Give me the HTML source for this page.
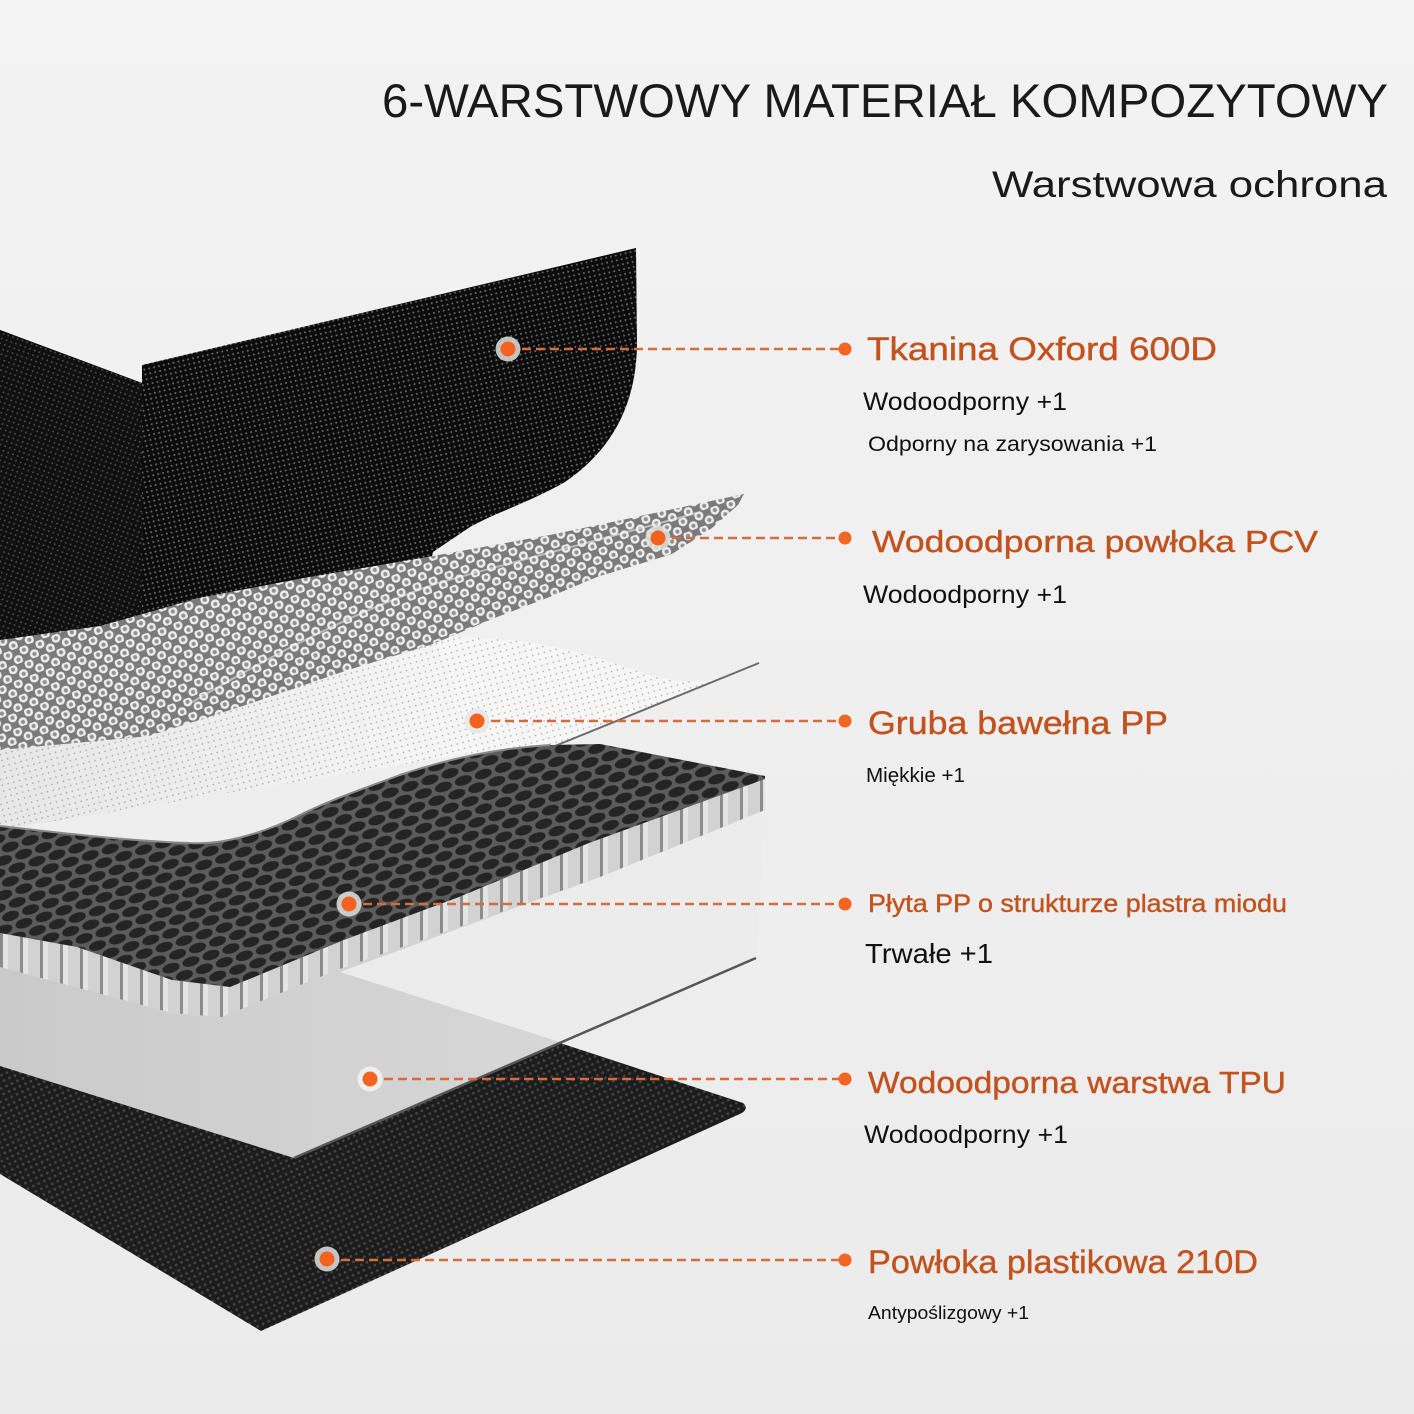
<!DOCTYPE html>
<html>
<head>
<meta charset="utf-8">
<style>
  html,body{margin:0;padding:0;background:#efefef;}
  svg{display:block;}
  text{font-family:"Liberation Sans","DejaVu Sans",sans-serif;}
</style>
</head>
<body>
<svg width="1414" height="1414" viewBox="0 0 1414 1414" xmlns="http://www.w3.org/2000/svg">
  <defs>
    <linearGradient id="bg" x1="0" y1="0" x2="0" y2="1">
      <stop offset="0" stop-color="#f3f3f3"/>
      <stop offset="1" stop-color="#ebebeb"/>
    </linearGradient>
    <pattern id="oxf" width="5" height="5" patternUnits="userSpaceOnUse" patternTransform="rotate(-13)">
      <rect width="5" height="5" fill="#0c0c0c"/>
      <circle cx="2.5" cy="2.5" r="1" fill="#6a6a6a"/>
    </pattern>
    <pattern id="oxf2" width="5" height="5" patternUnits="userSpaceOnUse" patternTransform="rotate(20)">
      <rect width="5" height="5" fill="#101010"/>
      <circle cx="2.5" cy="2.5" r="0.9" fill="#555"/>
    </pattern>
    <pattern id="pcv" width="17" height="15" patternUnits="userSpaceOnUse" patternTransform="rotate(-20)">
      <rect width="17" height="15" fill="#7a7a7a"/>
      <circle cx="4.25" cy="3.75" r="4.6" fill="#ededed"/>
      <circle cx="4.25" cy="3.75" r="2.1" fill="#919191"/>
      <circle cx="12.75" cy="11.25" r="4.6" fill="#ededed"/>
      <circle cx="12.75" cy="11.25" r="2.1" fill="#919191"/>
    </pattern>
    <pattern id="pp" width="6" height="6" patternUnits="userSpaceOnUse" patternTransform="rotate(-15)">
      <rect width="6" height="6" fill="#f6f6f6"/>
      <circle cx="3" cy="3" r="0.75" fill="#a5a5a5"/>
    </pattern>
    <pattern id="hex" width="21" height="22" patternUnits="userSpaceOnUse" patternTransform="rotate(-18)">
      <rect width="21" height="22" fill="#5c5c5c"/>
      <ellipse cx="10.5" cy="5.5" rx="8.8" ry="4.7" fill="#242424"/>
      <ellipse cx="0" cy="16.5" rx="8.8" ry="4.7" fill="#242424"/>
      <ellipse cx="21" cy="16.5" rx="8.8" ry="4.7" fill="#242424"/>
    </pattern>
    <pattern id="cols" width="20" height="60" patternUnits="userSpaceOnUse">
      <rect width="20" height="60" fill="#d2d2d2"/>
      <rect x="0" width="3" height="60" fill="#8c8c8c"/>
      <rect x="3" width="5" height="60" fill="#e4e4e4"/>
    </pattern>
    <pattern id="blk" width="6" height="6" patternUnits="userSpaceOnUse" patternTransform="rotate(-25)">
      <rect width="6" height="6" fill="#1c1c1c"/>
      <circle cx="3" cy="3" r="1.4" fill="#444"/>
    </pattern>
    <linearGradient id="tpu" x1="0" y1="0" x2="1" y2="0">
      <stop offset="0" stop-color="#cacaca"/>
      <stop offset="1" stop-color="#dcdcdc"/>
    </linearGradient>
    <linearGradient id="ppshade" x1="0" y1="0" x2="1" y2="0">
      <stop offset="0" stop-color="#000" stop-opacity="0.06"/>
      <stop offset="1" stop-color="#000" stop-opacity="0"/>
    </linearGradient>
  </defs>

  <rect width="1414" height="1414" fill="url(#bg)"/>

  <!-- Layer 6: 210D black bottom -->
  <path d="M0,1040 L557,1042 L743,1103 Q749,1108 742,1113 L261,1331 L0,1174 Z" fill="url(#blk)"/>

  <!-- Layer 5: TPU -->
  <path d="M0,930 L340,940 L600,870 L765,805 L756,958 L294,1158 L0,1066 Z" fill="url(#tpu)"/>
  <path d="M340,972 L600,877 L765,810 L756,958 L560,1042 Z" fill="#ececec"/>
  <path d="M756,958 L294,1158" stroke="#575757" stroke-width="2.5" fill="none"/>

  <!-- Layer 3: PP cotton -->
  <path d="M0,740 L433,638 C520,634 580,650 640,672 C690,690 730,680 759,663 L550,748 L480,752 L0,830 Z" fill="url(#pp)"/>
  <path d="M0,740 L433,638 L480,752 L0,830 Z" fill="url(#ppshade)"/>
  <path d="M759,663 L550,748" stroke="#6a6a6a" stroke-width="2" fill="none"/>

  <!-- Layer 4: honeycomb -->
  <path d="M765,776 L765,810 L600,877 L459,927 L337,970 L222,1017 L172,1013 L0,967 L0,933 L77,947 L172,980 L230,987 L344,940 L459,897 L589,843 Z" fill="url(#cols)"/>
  <path d="M765,776 L600,744 L550,745 C500,748 450,758 400,775 C360,790 330,800 300,815 C260,835 220,845 190,843 C140,842 60,833 0,826 L0,933 L77,947 L172,980 L230,987 L344,940 L459,897 L589,843 L765,779 Z" fill="url(#hex)"/>
  <path d="M550,745 C500,748 450,758 400,775 C360,790 330,800 300,815 C260,835 220,845 190,843 C140,842 60,833 0,826" stroke="#8a8a8a" stroke-width="2" fill="none"/>

  <!-- Layer 1: Oxford black -->
  <path d="M0,330 L142,383 L142,365 L636,248 L637,345 C636,405 612,450 565,482 C530,502 497,512 470,527 L433,552 L420,610 L0,705 Z" fill="url(#oxf)"/>
  <path d="M0,330 L142,383 L142,620 L0,650 Z" fill="url(#oxf2)"/>

  <!-- Layer 2: PCV -->
  <path d="M0,640 L100,626 L199,598 L298,579 L433,556 L550,535 L650,514 L744,494 L738,505 L712,528 L672,554 L597,577 L547,598 L497,617 L433,644 L348,670 L249,704 L149,736 L0,750 Z" fill="url(#pcv)"/>
  <path d="M189,704 C280,650 360,610 438,583 C520,560 600,540 700,512" stroke="#f2f2f2" stroke-opacity="0.55" stroke-width="2" fill="none"/>

  <!-- connectors -->
  <g stroke="#d36d3c" stroke-width="2.5" stroke-dasharray="9 5" fill="none">
    <line x1="522" y1="349" x2="839" y2="349"/>
    <line x1="672" y1="538" x2="839" y2="538"/>
    <line x1="491" y1="721" x2="839" y2="721"/>
    <line x1="363" y1="904" x2="839" y2="904"/>
    <line x1="384" y1="1079" x2="839" y2="1079"/>
    <line x1="341" y1="1260" x2="839" y2="1260"/>
  </g>
  <g>
    <circle cx="508" cy="349" r="12.5" fill="#e2e2e2" fill-opacity="0.85"/>
    <circle cx="508" cy="349" r="7.5" fill="#f4621f"/>
    <circle cx="658" cy="538" r="12.5" fill="#e2e2e2" fill-opacity="0.85"/>
    <circle cx="658" cy="538" r="7.5" fill="#f4621f"/>
    <circle cx="477" cy="721" r="12.5" fill="#e8e8e8" fill-opacity="0.9"/>
    <circle cx="477" cy="721" r="7.5" fill="#f4621f"/>
    <circle cx="349" cy="904" r="12.5" fill="#dcdcdc" fill-opacity="0.9"/>
    <circle cx="349" cy="904" r="7.5" fill="#f4621f"/>
    <circle cx="370" cy="1079" r="12.5" fill="#f2f2f2" fill-opacity="0.9"/>
    <circle cx="370" cy="1079" r="7.5" fill="#f4621f"/>
    <circle cx="327" cy="1259" r="12.5" fill="#d6d6d6" fill-opacity="0.9"/>
    <circle cx="327" cy="1259" r="7.5" fill="#f4621f"/>
    <circle cx="845" cy="349" r="6.5" fill="#f26522"/>
    <circle cx="845" cy="538" r="6.5" fill="#f26522"/>
    <circle cx="845" cy="721" r="6.5" fill="#f26522"/>
    <circle cx="845" cy="904" r="6.5" fill="#f26522"/>
    <circle cx="845" cy="1079" r="6.5" fill="#f26522"/>
    <circle cx="845" cy="1260" r="6.5" fill="#f26522"/>
  </g>

  <!-- titles -->
  <text x="382" y="117" font-size="47" fill="#1a1a1a" textLength="1006" lengthAdjust="spacingAndGlyphs">6-WARSTWOWY MATERIAŁ KOMPOZYTOWY</text>
  <text x="992" y="197" font-size="37" fill="#1a1a1a" textLength="395" lengthAdjust="spacingAndGlyphs">Warstwowa ochrona</text>

  <!-- labels -->
  <g fill="#c2521e" stroke="#c2521e" stroke-width="0.4">
    <text x="867" y="360" font-size="32" textLength="350" lengthAdjust="spacingAndGlyphs">Tkanina Oxford 600D</text>
    <text x="872" y="552" font-size="31" textLength="446" lengthAdjust="spacingAndGlyphs">Wodoodporna powłoka PCV</text>
    <text x="868" y="734" font-size="32" textLength="300" lengthAdjust="spacingAndGlyphs">Gruba bawełna PP</text>
    <text x="868" y="912" font-size="25" textLength="419" lengthAdjust="spacingAndGlyphs">Płyta PP o strukturze plastra miodu</text>
    <text x="868" y="1093" font-size="31" textLength="418" lengthAdjust="spacingAndGlyphs">Wodoodporna warstwa TPU</text>
    <text x="868" y="1273" font-size="32" textLength="390" lengthAdjust="spacingAndGlyphs">Powłoka plastikowa 210D</text>
  </g>
  <g fill="#111111">
    <text x="863" y="410" font-size="25" textLength="204" lengthAdjust="spacingAndGlyphs">Wodoodporny +1</text>
    <text x="868" y="451" font-size="21.5" textLength="289" lengthAdjust="spacingAndGlyphs">Odporny na zarysowania +1</text>
    <text x="863" y="603" font-size="25" textLength="204" lengthAdjust="spacingAndGlyphs">Wodoodporny +1</text>
    <text x="866" y="782" font-size="20.5" textLength="99" lengthAdjust="spacingAndGlyphs">Miękkie +1</text>
    <text x="865" y="963" font-size="28" textLength="128" lengthAdjust="spacingAndGlyphs">Trwałe +1</text>
    <text x="864" y="1143" font-size="25" textLength="204" lengthAdjust="spacingAndGlyphs">Wodoodporny +1</text>
    <text x="868" y="1319" font-size="18" textLength="161" lengthAdjust="spacingAndGlyphs">Antypoślizgowy +1</text>
  </g>
</svg>
</body>
</html>
